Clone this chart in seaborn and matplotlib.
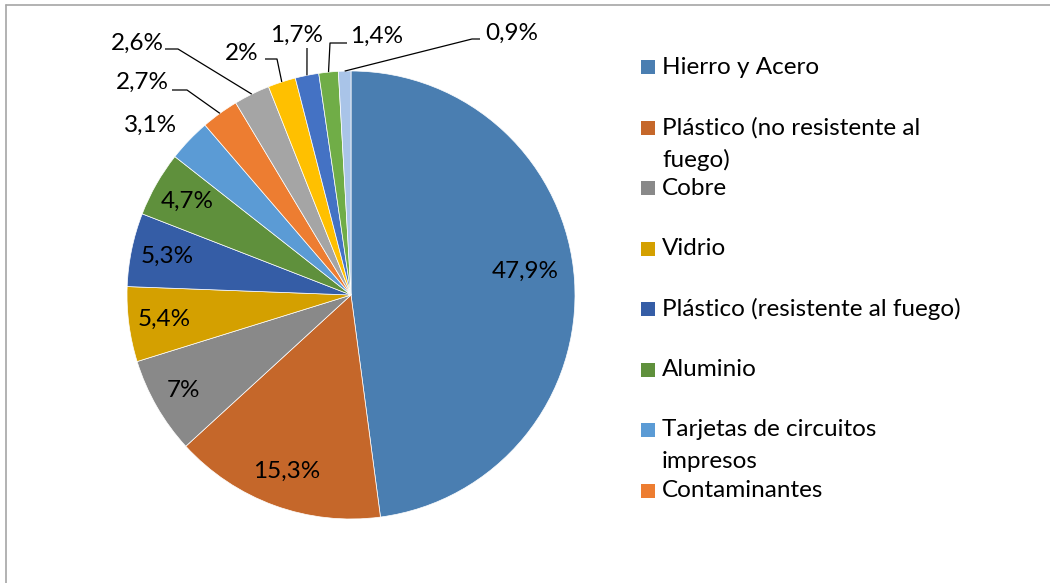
import numpy as np
import matplotlib
matplotlib.use("Agg")
import matplotlib.pyplot as plt
from matplotlib.lines import Line2D
from matplotlib.patches import Rectangle
import seaborn as sns

# Datos (porcentaje de cada material)
valores = [47.9, 15.3, 7, 5.4, 5.3, 4.7, 3.1, 2.7, 2.6, 2, 1.7, 1.4, 0.9]
etiquetas_valor = ["47,9%", "15,3%", "7%", "5,4%", "5,3%", "4,7%", "3,1%",
                   "2,7%", "2,6%", "2%", "1,7%", "1,4%", "0,9%"]
categorias = ["Hierro y Acero", "Plástico (no resistente al\nfuego)", "Cobre",
              "Vidrio", "Plástico (resistente al fuego)", "Aluminio",
              "Tarjetas de circuitos\nimpresos", "Contaminantes"]
colores = ["#4A7EB1", "#C5672A", "#898989", "#D4A000", "#355DA6", "#5F903C",
           "#5B9BD5", "#ED7D31", "#A5A5A5", "#FFC000", "#4472C4", "#70AD47",
           "#A9C4E8"]

sns.set_theme(style="white")
plt.rcParams['font.family'] = ['Lato', 'DejaVu Sans']
FS = 17.5

W, H = 1050, 583
fig = plt.figure(figsize=(W / 100, H / 100), dpi=100)
ax = fig.add_axes([0, 0, 1, 1])

# centro del pastel en pixeles y radio
cx, cy, R = 351, 295, 224

wedges, _ = ax.pie(valores, colors=colores, startangle=90, counterclock=False,
                   radius=1, center=(0, 0),
                   wedgeprops=dict(edgecolor="white", linewidth=0.5))

# pie() cambia los limites, se fijan despues
ax.set_xlim(-cx / R, (W - cx) / R)
ax.set_ylim(-(H - cy) / R, cy / R)
ax.set_aspect("equal")
ax.axis("off")

# angulo medio de cada porcion (en grados desde arriba, sentido horario)
acum = np.cumsum([0] + valores[:-1])
ang_medio = (acum + np.array(valores) / 2) / sum(valores) * 360


def punto(ang, r):
    a = np.deg2rad(ang)
    return r * np.sin(a), r * np.cos(a)


# etiquetas interiores
radios_int = [0.78, 0.84, 0.86, 0.84, 0.84, 0.84]
for i, r in enumerate(radios_int):
    x, y = punto(ang_medio[i], r)
    if i == 0:
        y += 0.055
    ax.text(x, y, etiquetas_valor[i], ha="center", va="center", fontsize=FS, color="black")


def px(x, y):
    return (x - cx) / R, (cy - y) / R


# etiquetas exteriores: (texto, inicio de linea, codo) en pixeles
exteriores = {
    6: ((150, 125), None, None),
    7: ((142, 82), (172, 90), (187, 90)),
    8: ((137, 43), (165, 49), (178, 49)),
    9: ((242, 53), (265, 59), (277, 59)),
    10: ((297, 35), (307, 48), (307, 48)),
    11: ((377, 36), (347, 43), (330, 43)),
    12: ((512, 33), (480, 39), (472, 39)),
}
for i, (t, p0, p1) in exteriores.items():
    tx, ty = px(*t)
    ax.text(tx, ty, etiquetas_valor[i], ha="center", va="center", fontsize=FS, color="black")
    if p0 is not None:
        ex, ey = punto(ang_medio[i], 1.0)
        x0, y0 = px(*p0)
        x1, y1 = px(*p1)
        ax.plot([x0, x1, ex], [y0, y1, ey], color="black", lw=0.9, solid_capstyle="butt")

# leyenda manual
y_fila = 67
paso = 60.5
for i, cat in enumerate(categorias):
    yy = y_fila + i * paso
    fig.patches.append(Rectangle((641 / W, 1 - (yy + 7) / H), 14 / W, 14 / H,
                                 transform=fig.transFigure, facecolor=colores[i],
                                 edgecolor="none"))
    for k, linea in enumerate(cat.split("\n")):
        fig.text(662 / W, 1 - (yy + k * 32) / H, linea, ha="left", va="center",
                 fontsize=FS, color="black")

# borde del area del grafico
fig.lines.append(Line2D([6 / W, 1], [1 - 5 / H, 1 - 5 / H], transform=fig.transFigure,
                        color="#A6A6A6", lw=1.2))
fig.lines.append(Line2D([6 / W, 6 / W], [1 - 5 / H, 0], transform=fig.transFigure,
                        color="#A6A6A6", lw=1.2))

fig.savefig("out.png", dpi=100)
